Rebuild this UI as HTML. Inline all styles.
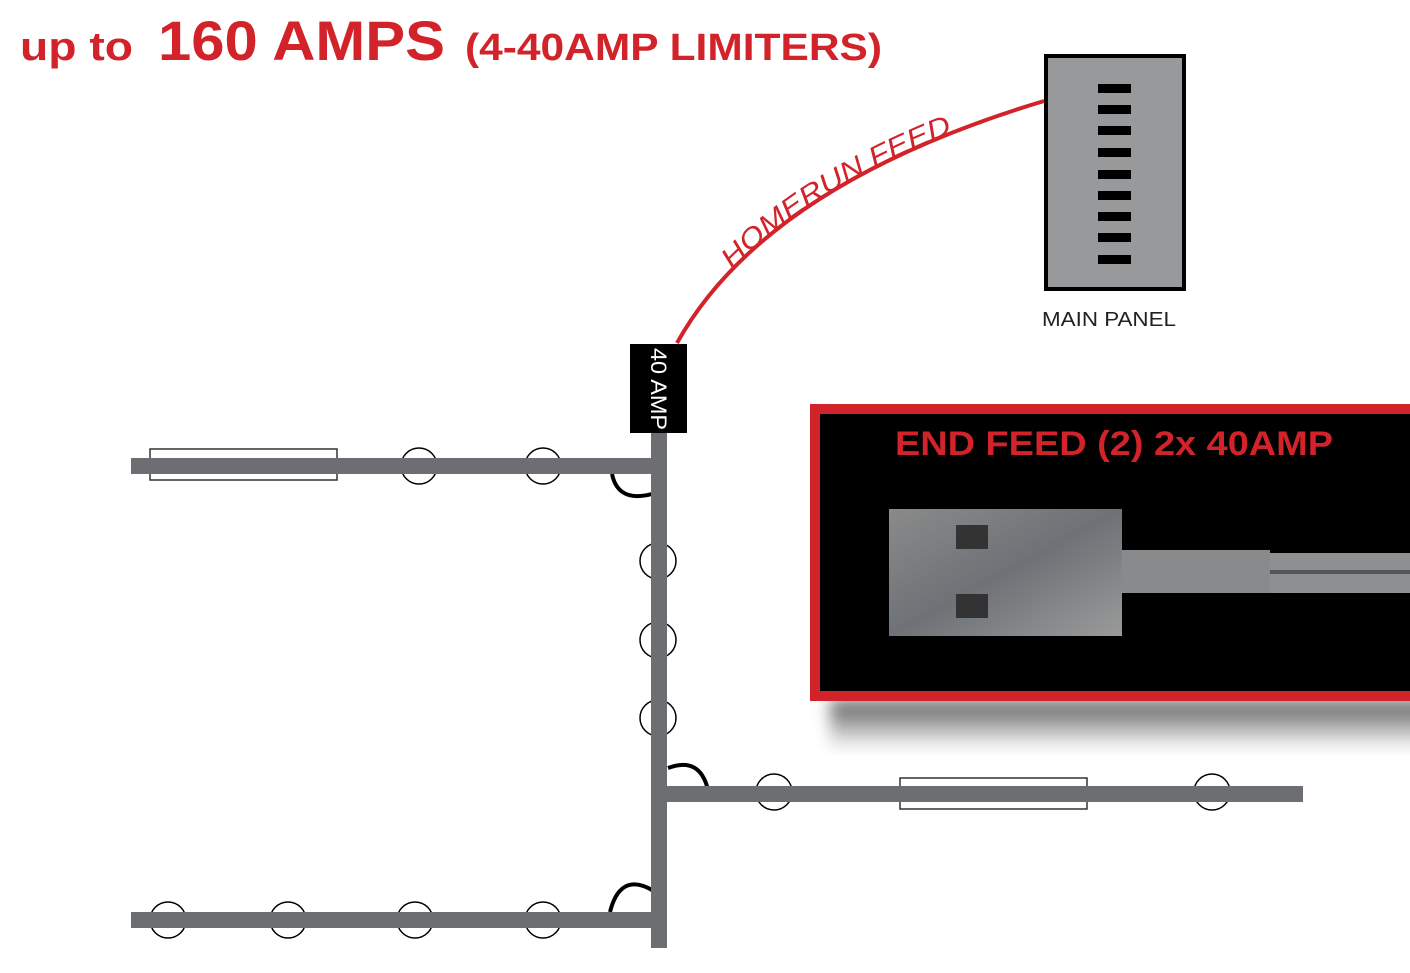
<!DOCTYPE html>
<html><head><meta charset="utf-8"><style>
html,body{margin:0;padding:0;background:#fff;}
svg{display:block;}
</style></head><body>
<svg width="1410" height="973" viewBox="0 0 1410 973" xmlns="http://www.w3.org/2000/svg">
<defs>
<linearGradient id="plate" x1="0" y1="0" x2="1" y2="1">
<stop offset="0" stop-color="#8a8a8a"/><stop offset="0.5" stop-color="#6e7276"/><stop offset="1" stop-color="#9a9a9a"/>
</linearGradient>
<linearGradient id="shadow" x1="0" y1="0" x2="0" y2="1">
<stop offset="0" stop-color="#555"/><stop offset="1" stop-color="#fff"/>
</linearGradient>
<filter id="blur"><feGaussianBlur stdDeviation="8"/></filter>
</defs>
<rect width="1410" height="973" fill="#fff"/>
<g fill="#d2232a" font-family="Liberation Sans, sans-serif" font-weight="bold">
<text x="20" y="60" font-size="40" textLength="113" lengthAdjust="spacingAndGlyphs">up to</text>
<text x="158" y="60" font-size="56" textLength="287" lengthAdjust="spacingAndGlyphs">160 AMPS</text>
<text x="465" y="60" font-size="38" textLength="417" lengthAdjust="spacingAndGlyphs">(4-40AMP LIMITERS)</text>
</g>
<rect x="1046" y="56" width="138" height="233" fill="#98999b" stroke="#000" stroke-width="4"/>
<g fill="#000">
<rect x="1098" y="84" width="33" height="9"/><rect x="1098" y="105" width="33" height="9"/>
<rect x="1098" y="126" width="33" height="9"/><rect x="1098" y="148" width="33" height="9"/>
<rect x="1098" y="170" width="33" height="9"/><rect x="1098" y="191" width="33" height="9"/>
<rect x="1098" y="212" width="33" height="9"/><rect x="1098" y="233" width="33" height="9"/>
<rect x="1098" y="255" width="33" height="9"/>
</g>
<text x="1042" y="326" font-family="Liberation Sans, sans-serif" font-size="20" fill="#222" textLength="134" lengthAdjust="spacingAndGlyphs">MAIN PANEL</text>
<path id="hr" d="M677 343 Q765 185 1044 101" fill="none" stroke="#d2232a" stroke-width="4"/>
<text font-family="Liberation Sans, sans-serif" font-size="28" fill="#d2232a" font-style="italic"><textPath href="#hr" startOffset="92" textLength="262" lengthAdjust="spacingAndGlyphs">HOMERUN FEED</textPath></text>
<rect x="630" y="344" width="57" height="89" fill="#000"/>
<text transform="translate(651,348) rotate(90)" font-family="Liberation Sans, sans-serif" font-size="22" fill="#fff" textLength="82" lengthAdjust="spacingAndGlyphs">40 AMP</text>
<rect x="830" y="700" width="600" height="50" fill="url(#shadow)" filter="url(#blur)"/>
<rect x="815" y="409" width="610" height="287" fill="#000" stroke="#d2232a" stroke-width="10"/>
<text x="895" y="455" font-family="Liberation Sans, sans-serif" font-weight="bold" font-size="34" fill="#d2232a" textLength="438" lengthAdjust="spacingAndGlyphs">END FEED (2) 2x 40AMP</text>
<rect x="1270" y="553" width="140" height="40" fill="#8d8f91"/>
<rect x="1270" y="570" width="140" height="4" fill="#555"/>
<rect x="1122" y="550" width="148" height="43" fill="#888a8c"/>
<rect x="889" y="509" width="233" height="127" fill="url(#plate)"/>
<rect x="956" y="525" width="32" height="24" fill="#333"/>
<rect x="956" y="594" width="32" height="24" fill="#333"/>
<g fill="none" stroke="#000" stroke-width="4">
<path d="M612 474 Q618 503 652 494"/>
<path d="M668 768 Q700 756 708 790"/>
<path d="M610 912 Q620 872 652 890"/>
</g>
<rect x="150" y="449" width="187" height="31" fill="#fff" stroke="#333" stroke-width="1.5"/>
<rect x="900" y="778" width="187" height="31" fill="#fff" stroke="#333" stroke-width="1.5"/>
<g fill="#fff" stroke="#000" stroke-width="1.5">
<circle cx="419" cy="466" r="18"/><circle cx="543" cy="466" r="18"/>
<circle cx="658" cy="561" r="18"/><circle cx="658" cy="640" r="18"/><circle cx="658" cy="718" r="18"/>
<circle cx="774" cy="792" r="18"/><circle cx="1212" cy="792" r="18"/>
<circle cx="168" cy="920" r="18"/><circle cx="288" cy="920" r="18"/><circle cx="415" cy="920" r="18"/><circle cx="543" cy="920" r="18"/>
</g>
<g fill="#6d6e71">
<rect x="651" y="433" width="16" height="515"/>
<rect x="131" y="458" width="528" height="16"/>
<rect x="659" y="786" width="644" height="16"/>
<rect x="131" y="912" width="528" height="16"/>
</g>
</svg>
</body></html>
